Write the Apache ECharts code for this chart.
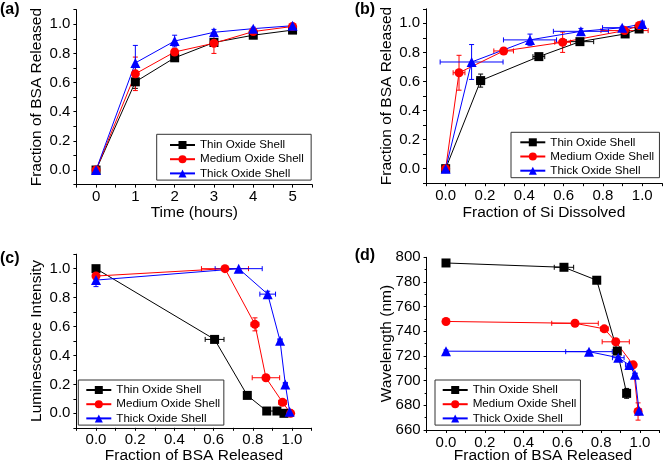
<!DOCTYPE html>
<html>
<head>
<meta charset="utf-8">
<script src="https://cdn.jsdelivr.net/npm/echarts@6/dist/echarts.min.js"></script>
<style>html,body{margin:0;padding:0;background:#fff}#c{width:664px;height:467px}</style>
</head>
<body>
<div id="c"></div>
<script>
// ---------- DATA ----------
const seriesNames = ['Thin Oxide Shell', 'Medium Oxide Shell', 'Thick Oxide Shell'];

// (a) Fraction of BSA released vs time
const aTime = [0, 1, 2, 3, 4, 5];
const aThin = [0, 0.605, 0.77, 0.875, 0.925, 0.96];
const aMedium = [0, 0.66, 0.81, 0.87, 0.95, 0.985];
const aThick = [0, 0.735, 0.885, 0.945, 0.97, 0.99];
const aThinErr = [0.01, 0.045, 0.015, 0.02, 0.01, 0.01];
const aMediumErr = [0.01, 0.115, 0.02, 0.07, 0.01, 0.01];
const aThickErr = [0.01, 0.12, 0.04, 0.02, 0.01, 0.01];

// (b) Fraction of BSA released vs fraction of Si dissolved
const bThinX = [0, 0.178, 0.474, 0.683, 0.913, 0.984];
const bThinY = [0, 0.606, 0.771, 0.874, 0.927, 0.961];
const bThinXErr = [0, 0.02, 0.03, 0.07, 0.01, 0.01];
const bThinYErr = [0.01, 0.045, 0.01, 0.01, 0.01, 0.01];
const bMediumX = [0, 0.068, 0.295, 0.595, 0.91, 0.985];
const bMediumY = [0, 0.66, 0.81, 0.87, 0.95, 0.985];
const bMediumXErr = [0, 0.03, 0.05, 0.04, 0.12, 0.01];
const bMediumYErr = [0.01, 0.12, 0.02, 0.07, 0.01, 0.01];
const bThickX = [0, 0.132, 0.429, 0.688, 0.898, 1.0];
const bThickY = [0, 0.734, 0.886, 0.945, 0.97, 0.995];
const bThickXErr = [0, 0.16, 0.135, 0.14, 0.1, 0.01];
const bThickYErr = [0.01, 0.12, 0.04, 0.02, 0.01, 0.02];

// (c) Luminescence intensity vs fraction of BSA released
const cThinX = [0, 0.605, 0.772, 0.871, 0.923, 0.959];
const cThinY = [1.0, 0.511, 0.124, 0.016, 0.016, 0.0];
const cThinXErr = [0, 0.048, 0.01, 0.01, 0.01, 0.01];
const cThinYErr = [0.01, 0.01, 0.01, 0.01, 0.01, 0.01];
const cMediumX = [0, 0.658, 0.811, 0.867, 0.952, 0.993];
const cMediumY = [0.949, 1.0, 0.615, 0.246, 0.076, 0.0];
const cMediumXErr = [0, 0.12, 0.02, 0.07, 0.02, 0.01];
const cMediumYErr = [0.02, 0, 0.045, 0.02, 0.01, 0.01];
const cThickX = [0, 0.728, 0.876, 0.939, 0.966, 0.988];
const cThickY = [0.921, 1.0, 0.824, 0.502, 0.2, 0.011];
const cThickXErr = [0, 0.12, 0.04, 0.01, 0.01, 0.01];
const cThickYErr = [0.045, 0, 0.02, 0.01, 0.01, 0.01];

// (d) Wavelength vs fraction of BSA released
const dThinX = [0, 0.608, 0.777, 0.883, 0.931];
const dThinY = [795.4, 791.9, 781.4, 724, 689.7];
const dThinXErr = [0, 0.05, 0.01, 0.01, 0.01];
const dThinYErr = [1, 1, 1, 1, 4];
const dMediumX = [0, 0.665, 0.816, 0.875, 0.965, 0.99];
const dMediumY = [748, 746.5, 742, 731.5, 712.8, 675];
const dMediumXErr = [0, 0.12, 0.02, 0.07, 0.01, 0.01];
const dMediumYErr = [1, 1, 1, 1, 1, 7];
const dThickX = [0, 0.737, 0.888, 0.945, 0.974, 0.995];
const dThickY = [723.9, 723.5, 718.6, 712.7, 704.8, 675.6];
const dThickXErr = [0, 0.12, 0.03, 0.02, 0.01, 0.01];
const dThickYErr = [1, 1, 1, 1, 1, 1];

const zeros6 = [0, 0, 0, 0, 0, 0];

// ---------- STYLE ----------
const FONT = 'Liberation Sans, Arial, sans-serif';
const colors = ['#000000', '#ff0000', '#0000ff'];
const symbols = ['rect', 'circle', 'triangle'];
const symSizes = [9, 9, 10];

const grids = [
  {left: 76.4, top: 9.7, width: 235.8, height: 174.9},
  {left: 426, top: 8.8, width: 235.9, height: 174.4},
  {left: 76.4, top: 254.2, width: 235.2, height: 173.6},
  {left: 426.6, top: 257.3, width: 232.8, height: 172.7}
].map(g => Object.assign({containLabel: false, outerBoundsMode: 'none'}, g));

function fracFmt(v) {
  const r = Math.round(v * 10);
  return (r % 2 === 0 && r >= 0 && r <= 10) ? (r / 10).toFixed(1) : '';
}

function makeAxis(gi, dir, o) {
  return Object.assign({
    type: 'value', gridIndex: gi,
    nameLocation: 'middle', nameMoveOverlap: false,
    nameTextStyle: {fontSize: 15.5, color: '#000', fontFamily: FONT},
    axisLine: {onZero: false, lineStyle: {color: '#000', width: 1}},
    axisTick: {show: true, inside: false, length: 3, lineStyle: {color: '#000', width: 1}},
    axisLabel: {fontSize: 15, color: '#000', fontFamily: FONT, margin: dir === 'x' ? 5 : 6},
    splitLine: {show: false}
  }, o);
}

const xAxes = [
  makeAxis(0, 'x', {min: -0.5, max: 5.5, interval: 0.5, name: 'Time (hours)', nameGap: 20,
    axisLabel: {fontSize: 15, color: '#000', fontFamily: FONT, margin: 5,
      formatter: v => (Math.abs(v - Math.round(v)) < 1e-6 && v >= 0 && v <= 5) ? String(Math.round(v)) : ''}}),
  makeAxis(1, 'x', {min: -0.1, max: 1.1, interval: 0.1, name: 'Fraction of Si Dissolved', nameGap: 22,
    axisLabel: {fontSize: 15, color: '#000', fontFamily: FONT, margin: 5, formatter: fracFmt}}),
  makeAxis(2, 'x', {min: -0.1, max: 1.1, interval: 0.1, name: 'Fraction of BSA Released', nameGap: 20,
    axisLabel: {fontSize: 15, color: '#000', fontFamily: FONT, margin: 5, formatter: fracFmt}}),
  makeAxis(3, 'x', {min: -0.1, max: 1.1, interval: 0.1, name: 'Fraction of BSA Released', nameGap: 18,
    axisLabel: {fontSize: 15, color: '#000', fontFamily: FONT, margin: 5, formatter: fracFmt}})
];
const yAxes = [
  makeAxis(0, 'y', {min: -0.1, max: 1.1, interval: 0.1, name: 'Fraction of BSA Released', nameGap: 31.5,
    axisLabel: {fontSize: 15, color: '#000', fontFamily: FONT, margin: 6, formatter: fracFmt}}),
  makeAxis(1, 'y', {min: -0.1, max: 1.1, interval: 0.1, name: 'Fraction of BSA Released', nameGap: 31.5,
    axisLabel: {fontSize: 15, color: '#000', fontFamily: FONT, margin: 6, formatter: fracFmt}}),
  makeAxis(2, 'y', {min: -0.1, max: 1.1, interval: 0.1, name: 'Luminescence Intensity', nameGap: 31.5,
    axisLabel: {fontSize: 15, color: '#000', fontFamily: FONT, margin: 6, formatter: fracFmt}}),
  makeAxis(3, 'y', {min: 660, max: 800, interval: 20, name: 'Wavelength (nm)', nameGap: 31.5,
    minorTick: {show: true, splitNumber: 2, length: 2, lineStyle: {color: '#000'}},
    axisLabel: {fontSize: 15, color: '#000', fontFamily: FONT, margin: 6}})
];

function errRender(color) {
  return function (params, api) {
    const x = api.value(0), y = api.value(1), ex = api.value(2), ey = api.value(3);
    const st = {stroke: color, lineWidth: 1};
    const ch = [];
    const cap = 2.5;
    if (ey > 0) {
      const p1 = api.coord([x, y - ey]), p2 = api.coord([x, y + ey]);
      ch.push({type: 'line', shape: {x1: p1[0], y1: p1[1], x2: p2[0], y2: p2[1]}, style: st});
      ch.push({type: 'line', shape: {x1: p1[0] - cap, y1: p1[1], x2: p1[0] + cap, y2: p1[1]}, style: st});
      ch.push({type: 'line', shape: {x1: p2[0] - cap, y1: p2[1], x2: p2[0] + cap, y2: p2[1]}, style: st});
    }
    if (ex > 0) {
      const p1 = api.coord([x - ex, y]), p2 = api.coord([x + ex, y]);
      ch.push({type: 'line', shape: {x1: p1[0], y1: p1[1], x2: p2[0], y2: p2[1]}, style: st});
      ch.push({type: 'line', shape: {x1: p1[0], y1: p1[1] - cap, x2: p1[0], y2: p1[1] + cap}, style: st});
      ch.push({type: 'line', shape: {x1: p2[0], y1: p2[1] - cap, x2: p2[0], y2: p2[1] + cap}, style: st});
    }
    return {type: 'group', children: ch};
  };
}

const panels = [
  [[aTime, aThin, zeros6, aThinErr], [aTime, aMedium, zeros6, aMediumErr], [aTime, aThick, zeros6, aThickErr]],
  [[bThinX, bThinY, bThinXErr, bThinYErr], [bMediumX, bMediumY, bMediumXErr, bMediumYErr], [bThickX, bThickY, bThickXErr, bThickYErr]],
  [[cThinX, cThinY, cThinXErr, cThinYErr], [cMediumX, cMediumY, cMediumXErr, cMediumYErr], [cThickX, cThickY, cThickXErr, cThickYErr]],
  [[dThinX, dThinY, dThinXErr, dThinYErr], [dMediumX, dMediumY, dMediumXErr, dMediumYErr], [dThickX, dThickY, dThickXErr, dThickYErr]]
];

const series = [];
panels.forEach((p, gi) => {
  p.forEach((s, si) => {
    const [xs, ys, xe, ye] = s;
    series.push({
      type: 'custom', name: 'err' + gi + si, xAxisIndex: gi, yAxisIndex: gi,
      renderItem: errRender(colors[si]), silent: true, z: 2, clip: false,
      encode: {x: 0, y: 1},
      data: xs.map((x, i) => [x, ys[i], xe[i], ye[i]])
    });
  });
  p.forEach((s, si) => {
    const [xs, ys] = s;
    series.push({
      type: 'line', name: seriesNames[si], xAxisIndex: gi, yAxisIndex: gi,
      symbol: symbols[si], symbolSize: symSizes[si], showSymbol: true, showAllSymbol: true,
      itemStyle: {color: colors[si]}, lineStyle: {color: colors[si], width: 1},
      emphasis: {disabled: true}, z: 3, clip: false,
      data: xs.map((x, i) => [x, ys[i]])
    });
  });
});

const legendBoxes = [
  {left: 156.7, top: 134.3, padding: [4.7, 7.4, 0.7, 12.3]},
  {left: 511, top: 132.3, padding: [4, 5.4, 1, 8.3]},
  {left: 78.3, top: 380, padding: [4, 3.8, 0.7, 7]},
  {left: 435, top: 380, padding: [4, 4, 0.7, 6.7]}
];
const legends = legendBoxes.map(b => ({
  show: true, orient: 'vertical', left: b.left, top: b.top, padding: b.padding,
  data: seriesNames, itemWidth: 25, itemHeight: 10, itemGap: 2.2,
  borderColor: '#333', borderWidth: 1, backgroundColor: 'rgba(0,0,0,0)', borderRadius: 0,
  selectedMode: false,
  textStyle: {fontSize: 11.6, lineHeight: 12, color: '#000', fontFamily: FONT}
}));

const labels = [['(a)', 0, 2], ['(b)', 354.7, 2], ['(c)', 0, 251], ['(d)', 354.7, 248]];

const chart = echarts.init(document.getElementById('c'), null, {renderer: 'canvas'});
chart.setOption({
  animation: false,
  backgroundColor: '#fff',
  grid: grids,
  xAxis: xAxes,
  yAxis: yAxes,
  legend: legends,
  series: series,
  graphic: labels.map(l => ({
    type: 'text', left: l[1], top: l[2],
    style: {text: l[0], fontSize: 16, fontWeight: 'bold', fontFamily: FONT, fill: '#000'}
  }))
});
</script>
</body>
</html>
